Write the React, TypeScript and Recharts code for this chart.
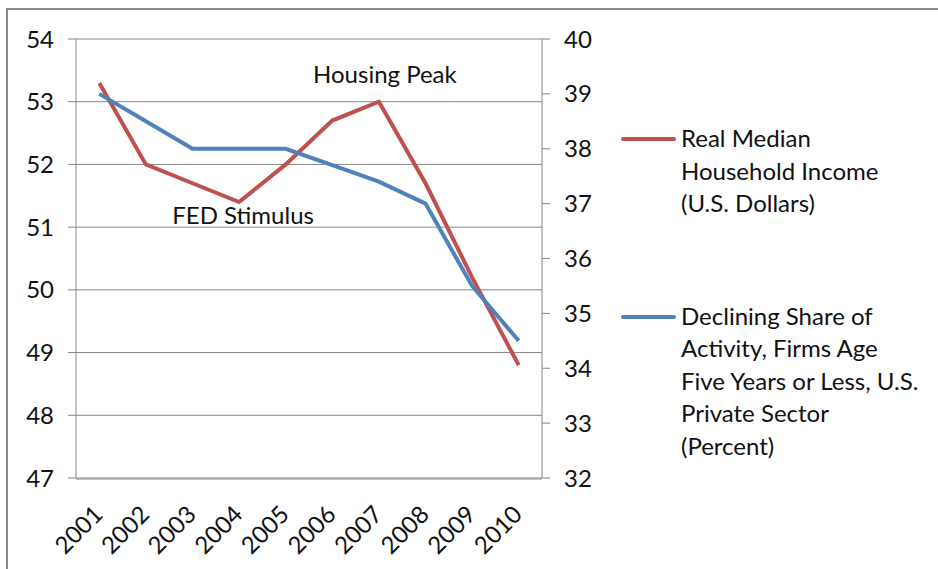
import { LineChart, Line, XAxis, YAxis, CartesianGrid, Legend, ReferenceDot } from 'recharts'

const years = ['2001', '2002', '2003', '2004', '2005', '2006', '2007', '2008', '2009', '2010']
const income = [53.3, 52.0, 51.7, 51.4, 52.0, 52.7, 53.0, 51.7, 50.2, 48.8]
const youngFirms = [39.0, 38.5, 38.0, 38.0, 38.0, 37.7, 37.4, 37.0, 35.5, 34.5]
const leftTicks = [47, 48, 49, 50, 51, 52, 53, 54]
const rightTicks = [32, 33, 34, 35, 36, 37, 38, 39, 40]
const incomeLabel = ['Real Median', 'Household Income', '(U.S. Dollars)']
const firmsLabel = ['Declining Share of', 'Activity, Firms Age', 'Five Years or Less, U.S.', 'Private Sector', '(Percent)']

const RED = '#C0504D'
const BLUE = '#4F81BD'
const GRID = '#878787'
const FONT = 'Lato, "Noto Sans", sans-serif'

const data = years.map((y, i) => ({ year: y, income: income[i], firms: youngFirms[i] }))
const edgeTicks = years.map((_, i) => i).concat(years.length)

const legendOrder = ['income', 'firms']
const legendLines: Record<string, string[]> = { income: incomeLabel, firms: firmsLabel }

function YearTick({ x, y, payload }: any) {
  const tx = x + 5
  const ty = y + 38
  return (
    <text x={tx} y={ty} transform={`rotate(-45 ${tx} ${ty})`} textAnchor="end" fontSize={24} fontFamily={FONT} fill="#111">
      {payload.value}
    </text>
  )
}

function renderLegend(props: any) {
  const items = legendOrder.map((k) => props.payload.find((p: any) => p.dataKey === k)).filter(Boolean)
  return (
    <div style={{ fontFamily: FONT, fontSize: 24, color: '#111', lineHeight: '32.5px' }}>
      {items.map((p: any, idx: number) => (
        <div key={p.dataKey} style={{ display: 'flex', alignItems: 'flex-start', marginTop: idx ? 80 : 0 }}>
          <div style={{ width: 55, height: 4, background: p.color, marginTop: 15, marginRight: 5, borderRadius: 2 }} />
          <div style={{ whiteSpace: 'nowrap' }}>
            {legendLines[p.dataKey].map((l) => <div key={l}>{l}</div>)}
          </div>
        </div>
      ))}
    </div>
  )
}

export default function App() {
  return (
    <div style={{ position: 'absolute', left: 0, top: 0, width: 938, height: 569, background: '#fff', overflow: 'hidden' }}>
      <div style={{ position: 'absolute', left: 6, top: 8, width: 940, height: 600, borderLeft: '2px solid #8a8a8a', borderTop: '2px solid #8a8a8a' }} />
      <LineChart width={938} height={569} data={data} margin={{ top: 39, right: 336, bottom: 89, left: 0 }}>
        <CartesianGrid vertical={false} yAxisId="left" stroke={GRID} strokeWidth={1} />
        <XAxis xAxisId="edges" type="number" domain={[0, years.length]} ticks={edgeTicks} height={1} tick={false} tickSize={8} stroke={GRID} allowDataOverflow />
        <XAxis dataKey="year" height={1} padding={{ left: 23.3, right: 23.3 }} tickLine={false} axisLine={false} tickSize={0} tickMargin={0} tick={<YearTick />} interval={0} />
        <YAxis yAxisId="left" domain={[47, 54]} ticks={leftTicks} width={76} tickSize={8} tickMargin={14} stroke={GRID} tick={{ fill: '#111', fontSize: 24, fontFamily: FONT }} interval={0} />
        <YAxis yAxisId="right" orientation="right" domain={[32, 40]} ticks={rightTicks} width={60} tickSize={8} tickMargin={14} stroke={GRID} tick={{ fill: '#111', fontSize: 24, fontFamily: FONT, textAnchor: 'start' }} interval={0} />
        <Line yAxisId="left" dataKey="income" name={incomeLabel.join(' ')} stroke={RED} strokeWidth={4} dot={false} isAnimationActive={false} />
        <Line yAxisId="right" dataKey="firms" name={firmsLabel.join(' ')} stroke={BLUE} strokeWidth={4} dot={false} isAnimationActive={false} />
        <ReferenceDot yAxisId="left" x="2007" y={53.0} r={0} stroke="none" label={{ value: 'Housing Peak', position: 'top', offset: 19, dx: 6, fontSize: 24, fontFamily: FONT, fill: '#111' }} />
        <ReferenceDot yAxisId="left" x="2004" y={51.4} r={0} stroke="none" label={{ value: 'FED Stimulus', position: 'bottom', offset: 5, dx: 4, fontSize: 24, fontFamily: FONT, fill: '#111' }} />
        <Legend content={renderLegend} layout="vertical" align="center" verticalAlign="middle" wrapperStyle={{ left: 621, top: 122, width: 310 }} />
      </LineChart>
    </div>
  )
}
